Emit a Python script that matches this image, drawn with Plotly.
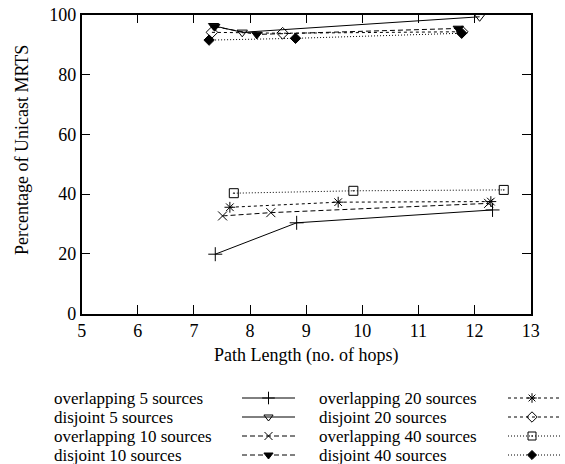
import plotly.graph_objects as go

W, H = 565, 464

# Path length (hops) and percentage of unicast MRTS for each configuration
ov5_x = [7.38, 8.83, 12.32]
ov5_y = [19.9, 30.4, 34.7]
dj5_x = [7.35, 7.86, 12.09]
dj5_y = [96.3, 94.1, 99.3]
ov10_x = [7.51, 8.37, 12.25]
ov10_y = [32.7, 33.8, 36.9]
dj10_x = [7.37, 8.12, 11.71]
dj10_y = [96.0, 93.4, 95.4]
ov20_x = [7.64, 9.57, 12.29]
ov20_y = [35.6, 37.3, 37.5]
dj20_x = [7.32, 8.58, 11.78]
dj20_y = [94.1, 93.8, 94.3]
ov40_x = [7.71, 9.84, 12.52]
ov40_y = [40.3, 41.1, 41.4]
dj40_x = [7.27, 8.81, 11.77]
dj40_y = [91.5, 92.1, 93.8]

names = ["overlapping 5 sources", "disjoint 5 sources",
         "overlapping 10 sources", "disjoint 10 sources",
         "overlapping 20 sources", "disjoint 20 sources",
         "overlapping 40 sources", "disjoint 40 sources"]

x_ticks = [5, 6, 7, 8, 9, 10, 11, 12, 13]
y_ticks = [0, 20, 40, 60, 80, 100]

FONT = "Liberation Serif, Tinos, Nimbus Roman, DejaVu Serif, serif"
FS = 18
KEY_FS = 17

# (x, y, symbol, dash, marker size)
series = [
    (ov5_x, ov5_y, "cross-thin-open", "solid", 10),
    (dj5_x, dj5_y, "triangle-down-open", "solid", 9),
    (ov10_x, ov10_y, "x-thin-open", "5px,3px", 9),
    (dj10_x, dj10_y, "triangle-down", "5px,3px", 9),
    (ov20_x, ov20_y, "asterisk-open", "3px,3px", 9),
    (dj20_x, dj20_y, "diamond-open", "3px,3px", 9),
    (ov40_x, ov40_y, "square-open-dot", "1px,2px", 9),
    (dj40_x, dj40_y, "diamond", "1px,2px", 8),
]

fig = go.Figure()

for (xs, ys, sym, dash, sz), nm in zip(series, names):
    fig.add_trace(go.Scatter(
        x=xs, y=ys, mode="lines+markers", name=nm, cliponaxis=False,
        line=dict(color="black", width=1, dash=dash),
        marker=dict(symbol=sym, size=sz, color="black",
                    line=dict(color="black", width=1)),
        showlegend=False, xaxis="x", yaxis="y"))

# Key drawn below the axes: label text on the left, line sample on the right
rows_py = [398.0, 417.0, 436.0, 455.0]
cols = [(51.7, 242, 295, 268.5), (317.3, 508, 560, 532)]
for i, ((xs, ys, sym, dash, sz), nm) in enumerate(zip(series, names)):
    tx, x0, x1, xm = cols[i // 4]
    py = rows_py[i % 4]
    fig.add_trace(go.Scatter(
        x=[x0, x1], y=[py, py], mode="lines", cliponaxis=False,
        line=dict(color="black", width=1, dash=dash),
        showlegend=False, hoverinfo="skip", xaxis="x2", yaxis="y2"))
    fig.add_trace(go.Scatter(
        x=[xm], y=[py], mode="markers", cliponaxis=False,
        marker=dict(symbol=sym, size=sz - 1, color="black",
                    line=dict(color="black", width=1)),
        showlegend=False, hoverinfo="skip", xaxis="x2", yaxis="y2"))
    fig.add_annotation(x=tx / W, y=1 - py / H, xref="paper", yref="paper",
                       text=nm, showarrow=False, xanchor="left",
                       yanchor="middle",
                       font=dict(family=FONT, size=KEY_FS, color="black"))

# Axis titles
fig.add_annotation(x=306 / W, y=1 - 355 / H, xref="paper", yref="paper",
                   text="Path Length (no. of hops)", showarrow=False,
                   xanchor="center", yanchor="middle",
                   font=dict(family=FONT, size=FS, color="black"))
fig.add_annotation(x=22 / W, y=1 - 150 / H, xref="paper", yref="paper",
                   text="Percentage of Unicast MRTS", showarrow=False, textangle=-90,
                   xanchor="center", yanchor="middle",
                   font=dict(family=FONT, size=FS, color="black"))

x_l, x_r = 81.7, 530.7
y_t, y_b = 14.7, 313.7

fig.update_layout(
    width=W, height=H,
    margin=dict(l=0, r=0, t=0, b=0),
    paper_bgcolor="white", plot_bgcolor="white",
    font=dict(family=FONT, size=FS, color="black"),
    xaxis=dict(domain=[x_l / W, x_r / W], range=[5, 13], tickvals=x_ticks,
               ticks="inside", ticklen=9, tickwidth=1, tickcolor="black",
               showline=True, linecolor="black", linewidth=1.5, mirror="ticks",
               showgrid=False, zeroline=False, automargin=False,
               tickfont=dict(family=FONT, size=FS), anchor="y"),
    yaxis=dict(domain=[1 - y_b / H, 1 - y_t / H], range=[0, 100], tickvals=y_ticks,
               ticks="inside", ticklen=9, tickwidth=1, tickcolor="black",
               showline=True, linecolor="black", linewidth=1.5, mirror="ticks",
               showgrid=False, zeroline=False, automargin=False,
               tickfont=dict(family=FONT, size=FS), anchor="x"),
    xaxis2=dict(domain=[0, 1], range=[0, W], visible=False, anchor="y2",
                fixedrange=True),
    yaxis2=dict(domain=[0, 79 / H], range=[H, 385], visible=False, anchor="x2",
                fixedrange=True),
)

fig.write_html("out.html")
